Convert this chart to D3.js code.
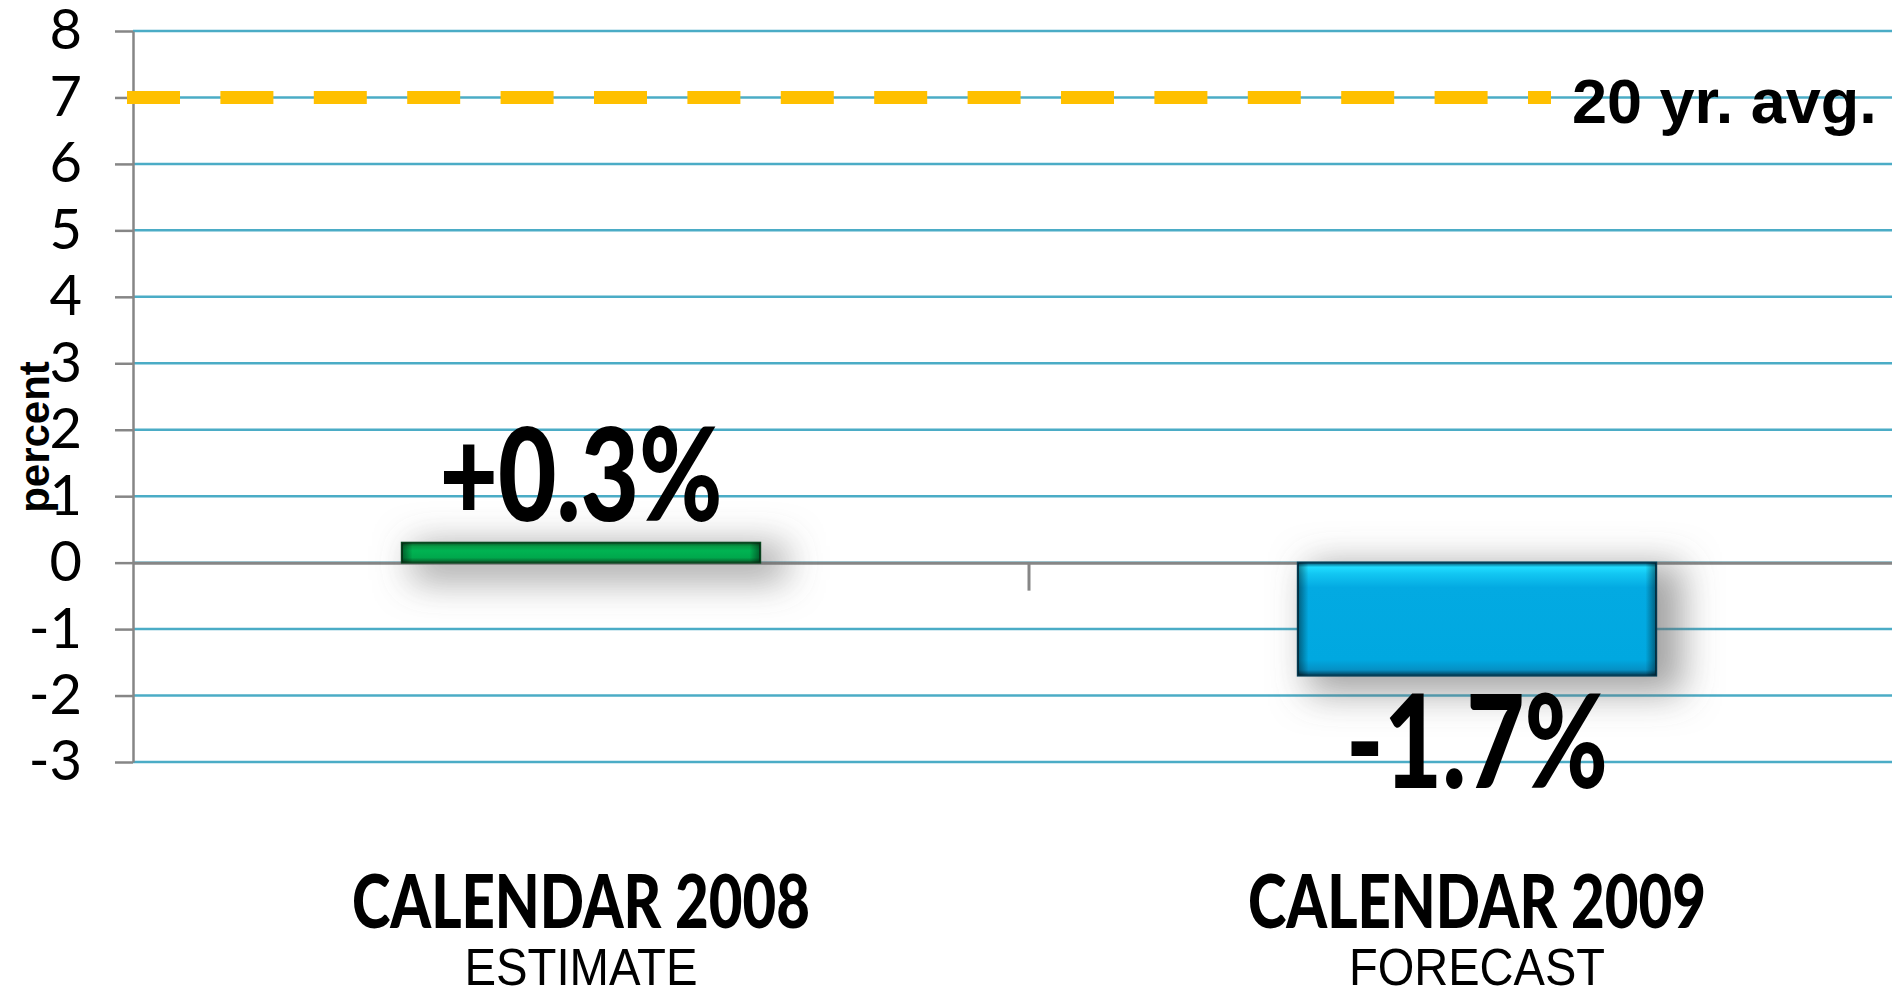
<!DOCTYPE html>
<html>
<head>
<meta charset="utf-8">
<script src="https://cdn.jsdelivr.net/npm/d3@7"></script>
<style>
  body { margin: 0; background: #fff; }
  svg { display: block; overflow: hidden; }
</style>
</head>
<body>
<div id="chart"></div>
<script>
// data
var categories = ["CALENDAR 2008", "CALENDAR 2009"];
var subLabels = ["ESTIMATE", "FORECAST"];
var values = [0.3, -1.7];
var yTicks = [-3, -2, -1, 0, 1, 2, 3, 4, 5, 6, 7, 8];
var avgValue = 7;
var avgLabel = "20 yr. avg.";

// margins, width and height of the plot (plot runs a bit past the right edge, like the original)
var margin = {top: 31, left: 133},
    width = 1792,
    height = 731,
    svgW = 1892,
    svgH = 993;

var svg = d3.select("#chart")
  .append("svg")
  .attr("width", svgW)
  .attr("height", svgH);

var defs = svg.append("defs");

// soft shadow behind the bars
var shadow = defs.append("filter")
  .attr("id", "shadow")
  .attr("x", "-50%").attr("y", "-300%")
  .attr("width", "200%").attr("height", "700%");
shadow.append("feMorphology").attr("in", "SourceAlpha").attr("operator", "dilate").attr("radius", 8).attr("result", "grow");
shadow.append("feGaussianBlur").attr("in", "grow").attr("stdDeviation", 18).attr("result", "blur");
shadow.append("feOffset").attr("in", "blur").attr("dx", 18).attr("dy", 10).attr("result", "off");
shadow.append("feFlood").attr("flood-color", "#666").attr("flood-opacity", 0.6);
shadow.append("feComposite").attr("in2", "off").attr("operator", "in");

// bevel gradients
function vGrad(id, stops) {
  var g = defs.append("linearGradient").attr("id", id)
    .attr("x1", 0).attr("y1", 0).attr("x2", 0).attr("y2", 1);
  stops.forEach(function(s) {
    g.append("stop").attr("offset", s[0]).attr("stop-color", s[1]);
  });
}
vGrad("greenFill", [["0%", "#0a5a2a"], ["18%", "#079a44"], ["40%", "#00b352"], ["75%", "#00a84c"], ["100%", "#075a2a"]]);
vGrad("blueFill", [["0%", "#07506e"], ["4%", "#1fdcff"], ["10%", "#12c6f2"], ["22%", "#03aae2"], ["86%", "#00a8e0"], ["95%", "#0590c4"], ["100%", "#043c55"]]);

var edge = defs.append("linearGradient").attr("id", "sideShade")
  .attr("x1", 0).attr("y1", 0).attr("x2", 1).attr("y2", 0);
edge.append("stop").attr("offset", "0%").attr("stop-color", "#000").attr("stop-opacity", 0.45);
edge.append("stop").attr("offset", "3%").attr("stop-color", "#000").attr("stop-opacity", 0);
edge.append("stop").attr("offset", "97%").attr("stop-color", "#000").attr("stop-opacity", 0);
edge.append("stop").attr("offset", "100%").attr("stop-color", "#000").attr("stop-opacity", 0.45);

var g = svg.append("g")
  .attr("transform", "translate(" + margin.left + "," + margin.top + ")");

// scales
var y = d3.scaleLinear()
  .domain([-3, 8])
  .range([height, 0]);

var x = d3.scaleBand()
  .domain(categories)
  .range([0, width])
  .paddingInner(0.6)
  .paddingOuter(0.3);

// gridlines
g.append("g")
  .selectAll("line")
  .data(yTicks)
  .enter()
  .append("line")
  .attr("x1", 0)
  .attr("x2", width)
  .attr("y1", function(d) { return y(d); })
  .attr("y2", function(d) { return y(d); })
  .attr("stroke", "#4bacc6")
  .attr("stroke-width", 2.5);

// y axis
var yAxis = g.append("g")
  .call(d3.axisLeft(y)
    .tickValues(yTicks)
    .tickSize(18)
    .tickSizeOuter(0)
    .tickPadding(33)
    .tickFormat(function(d) { return String(d); }));
yAxis.select(".domain").attr("stroke", "#868686").attr("stroke-width", 2.5);
yAxis.selectAll(".tick line").attr("stroke", "#868686").attr("stroke-width", 2.5);
yAxis.selectAll(".tick text")
  .attr("font-family", "Lato, 'Open Sans', sans-serif")
  .attr("font-size", "56px")
  .attr("fill", "#000");

// category axis on the zero line
var xAxis = g.append("g")
  .attr("transform", "translate(0," + y(0) + ")")
  .call(d3.axisBottom(x).tickSize(0).tickSizeOuter(0).tickFormat(""));
xAxis.select(".domain").attr("stroke", "#868686").attr("stroke-width", 3);

// tick mark between the two categories
var mid = (x(categories[0]) + x(categories[1]) + x.bandwidth()) / 2;
g.append("line")
  .attr("x1", mid).attr("x2", mid)
  .attr("y1", y(0)).attr("y2", y(0) + 28)
  .attr("stroke", "#868686")
  .attr("stroke-width", 3);

// bars
var fills = ["url(#greenFill)", "url(#blueFill)"];
var edges = ["#0b4a22", "#053f58"];

var bars = g.selectAll(".bar")
  .data(values)
  .enter()
  .append("g")
  .attr("class", "bar");

bars.append("rect")
  .attr("x", function(d, i) { return x(categories[i]); })
  .attr("y", function(d) { return y(Math.max(0, d)); })
  .attr("width", x.bandwidth())
  .attr("height", function(d) { return Math.abs(y(d) - y(0)); })
  .attr("fill", "#fff")
  .attr("filter", "url(#shadow)");

bars.append("rect")
  .attr("x", function(d, i) { return x(categories[i]); })
  .attr("y", function(d) { return y(Math.max(0, d)); })
  .attr("width", x.bandwidth())
  .attr("height", function(d) { return Math.abs(y(d) - y(0)); })
  .attr("fill", function(d, i) { return fills[i]; })
  .attr("stroke", function(d, i) { return edges[i]; })
  .attr("stroke-width", 2);

bars.append("rect")
  .attr("x", function(d, i) { return x(categories[i]); })
  .attr("y", function(d) { return y(Math.max(0, d)); })
  .attr("width", x.bandwidth())
  .attr("height", function(d) { return Math.abs(y(d) - y(0)); })
  .attr("fill", "url(#sideShade)");

// value labels
var labelWidths = [283, 262];
bars.append("text")
  .attr("x", function(d, i) { return x(categories[i]) + x.bandwidth() / 2; })
  .attr("y", function(d) { return d >= 0 ? y(d) - 22 : y(d) + 112; })
  .attr("text-anchor", "middle")
  .attr("font-family", "Lato, sans-serif")
  .attr("font-weight", 900)
  .attr("font-size", "130px")
  .attr("textLength", function(d, i) { return labelWidths[i]; })
  .attr("lengthAdjust", "spacingAndGlyphs")
  .attr("fill", "#000")
  .text(function(d) { return (d >= 0 ? "+" : "-") + Math.abs(d).toFixed(1) + "%"; });

// 20 year average line
var avgEnd = 1551 - margin.left;
g.append("line")
  .attr("x1", -6)
  .attr("x2", avgEnd)
  .attr("y1", y(avgValue))
  .attr("y2", y(avgValue))
  .attr("stroke", "#ffc000")
  .attr("stroke-width", 13)
  .attr("stroke-dasharray", "53,40.4");

g.append("text")
  .attr("x", avgEnd + 21)
  .attr("y", y(avgValue) + 26)
  .attr("font-family", "'Liberation Sans', Arial, sans-serif")
  .attr("font-weight", "bold")
  .attr("font-size", "63px")
  .attr("fill", "#000")
  .text(avgLabel);

// category labels
g.selectAll(".cat")
  .data(categories)
  .enter()
  .append("text")
  .attr("class", "cat")
  .attr("x", function(d) { return x(d) + x.bandwidth() / 2; })
  .attr("y", 928 - margin.top)
  .attr("text-anchor", "middle")
  .attr("font-family", "Lato, sans-serif")
  .attr("font-weight", 900)
  .attr("font-size", "74px")
  .attr("textLength", 458)
  .attr("lengthAdjust", "spacingAndGlyphs")
  .attr("fill", "#000")
  .text(function(d) { return d; });

var subWidths = [233, 256];
g.selectAll(".sub")
  .data(subLabels)
  .enter()
  .append("text")
  .attr("class", "sub")
  .attr("x", function(d, i) { return x(categories[i]) + x.bandwidth() / 2; })
  .attr("y", 985 - margin.top)
  .attr("text-anchor", "middle")
  .attr("font-family", "'Liberation Sans', Arial, sans-serif")
  .attr("font-size", "51px")
  .attr("textLength", function(d, i) { return subWidths[i]; })
  .attr("lengthAdjust", "spacingAndGlyphs")
  .attr("fill", "#000")
  .text(function(d) { return d; });

// y axis title
svg.append("text")
  .attr("transform", "translate(49," + 437 + ") rotate(-90)")
  .attr("text-anchor", "middle")
  .attr("font-family", "'Liberation Sans', Arial, sans-serif")
  .attr("font-weight", "bold")
  .attr("font-size", "42px")
  .attr("fill", "#000")
  .text("percent");
</script>
</body>
</html>
